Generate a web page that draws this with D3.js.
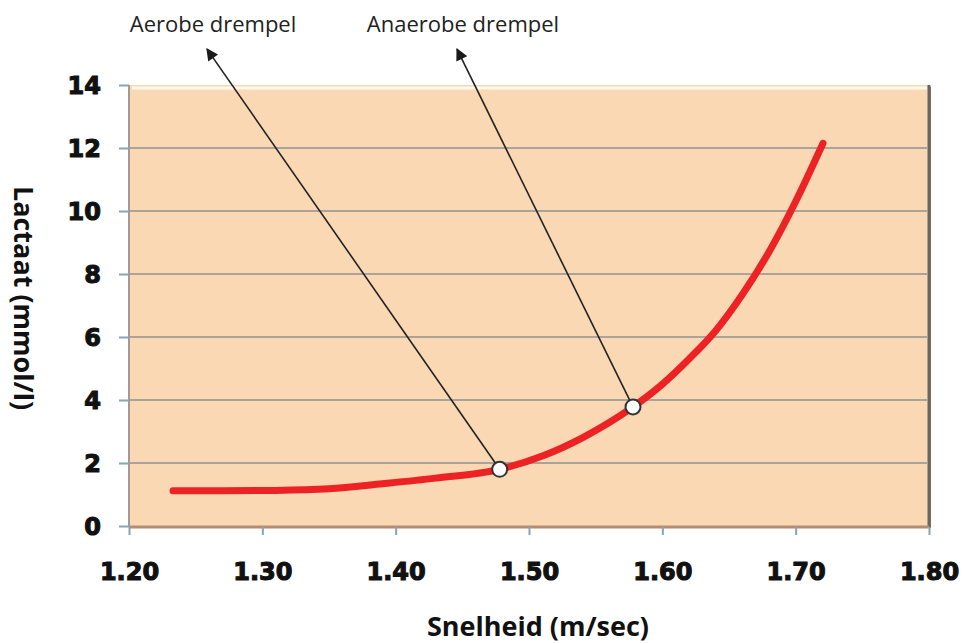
<!DOCTYPE html>
<html>
<head>
<meta charset="utf-8">
<script src="https://cdn.jsdelivr.net/npm/d3@7"></script>
<style>
  html, body { margin: 0; padding: 0; background: #fff; }
  svg { display: block; }
</style>
</head>
<body>
<svg id="chart" width="966" height="643"></svg>
<script>
// Lactate curve: speed (m/sec) vs lactate (mmol/l)
const speed   = [1.233, 1.27, 1.31, 1.35, 1.39, 1.43, 1.478, 1.51, 1.54, 1.578, 1.60, 1.62, 1.64, 1.66, 1.68, 1.70, 1.7205];
const lactate = [1.12, 1.12, 1.13, 1.18, 1.34, 1.52, 1.80, 2.22, 2.80, 3.78, 4.50, 5.30, 6.20, 7.35, 8.70, 10.30, 12.15];

// Threshold markers
const thresholdNames   = ["Aerobe drempel", "Anaerobe drempel"];
const thresholdSpeed   = [1.478, 1.578];
const thresholdLactate = [1.80, 3.78];
// Where each annotation arrow points (data units, above the plot)
const arrowTipSpeed    = [1.2585, 1.446];
const arrowTipLactate  = [15.14, 15.14];

const xTicks = [1.2, 1.3, 1.4, 1.5, 1.6, 1.7, 1.8];
const yTicks = [0, 2, 4, 6, 8, 10, 12, 14];

const svg = d3.select("#chart");
const x = d3.scaleLinear().domain([1.2, 1.8]).range([129, 929]);
const y = d3.scaleLinear().domain([0, 14]).range([526, 85]);

const defs = svg.append("defs");
defs.append("marker")
  .attr("id", "arrowhead")
  .attr("viewBox", "0 0 10 10")
  .attr("refX", 9).attr("refY", 5)
  .attr("markerWidth", 14).attr("markerHeight", 12)
  .attr("markerUnits", "userSpaceOnUse")
  .attr("orient", "auto")
  .append("path").attr("d", "M0,0 L10,5 L0,10 Z").attr("fill", "#1a1a1a");

// Plot area with bevelled frame
const px0 = x(1.2), px1 = x(1.8), py0 = y(14), py1 = y(0);
svg.append("rect")
  .attr("x", px0 + 2).attr("y", py0 + 2)
  .attr("width", px1 - px0).attr("height", py1 - py0)
  .attr("fill", "#8a7565");
svg.append("rect")
  .attr("x", px0).attr("y", py0)
  .attr("width", px1 - px0).attr("height", py1 - py0)
  .attr("fill", "#fad8b3");
svg.append("line")
  .attr("x1", px0 + 3).attr("x2", px1 - 2)
  .attr("y1", py0 + 3).attr("y2", py0 + 3)
  .attr("stroke", "#fffaf0").attr("stroke-width", 3);
svg.append("line")
  .attr("x1", px0).attr("x2", px0)
  .attr("y1", py0).attr("y2", py1)
  .attr("stroke", "#a59a92").attr("stroke-width", 2);
svg.append("line")
  .attr("x1", px1).attr("x2", px1)
  .attr("y1", py0).attr("y2", py1 + 2)
  .attr("stroke", "#6b6560").attr("stroke-width", 3);
svg.append("line")
  .attr("x1", px0).attr("x2", px1)
  .attr("y1", py1 + 1).attr("y2", py1 + 1)
  .attr("stroke", "#b08d73").attr("stroke-width", 3);

// Horizontal gridlines
svg.append("g")
  .selectAll("line")
  .data(yTicks.filter(d => d > 0 && d < 14))
  .join("line")
  .attr("x1", px0 + 1).attr("x2", px1 - 1)
  .attr("y1", d => y(d)).attr("y2", d => y(d))
  .attr("stroke", "#aaa39b").attr("stroke-width", 2);

// Axes
const xAxis = svg.append("g")
  .attr("transform", `translate(0,${py1 + 1})`)
  .call(d3.axisBottom(x).tickValues(xTicks).tickFormat(d3.format(".2f")).tickSize(8).tickPadding(28));
const yAxis = svg.append("g")
  .attr("transform", `translate(${px0},0)`)
  .call(d3.axisLeft(y).tickValues(yTicks).tickSize(10).tickPadding(18));
[xAxis, yAxis].forEach(a => {
  a.select(".domain").remove();
  a.selectAll(".tick line").attr("stroke", "#8aa3b3").attr("stroke-width", 2);
  a.selectAll(".tick text")
    .attr("fill", "#111")
    .attr("stroke", "#111").attr("stroke-width", 1.1)
    .style("font-family", "'DejaVu Sans', sans-serif")
    .style("font-weight", "bold")
    .style("font-size", "24px");
});
xAxis.selectAll(".tick text").attr("dy", "0.71em");
yAxis.selectAll(".tick text").attr("dy", "0.36em");

// Axis titles
svg.append("text")
  .attr("x", 538).attr("y", 636)
  .attr("text-anchor", "middle")
  .attr("fill", "#111")
  .style("font-family", "'Open Sans', sans-serif")
  .style("font-weight", "bold")
  .style("font-size", "27px")
  .text("Snelheid (m/sec)");
svg.append("text")
  .attr("transform", "translate(14,298) rotate(90)")
  .attr("text-anchor", "middle")
  .attr("fill", "#111")
  .style("font-family", "'Open Sans', sans-serif")
  .style("font-weight", "bold")
  .style("font-size", "27px")
  .text("Lactaat (mmol/l)");

// Lactate curve
const line = d3.line()
  .x((d, i) => x(speed[i]))
  .y((d, i) => y(lactate[i]))
  .curve(d3.curveMonotoneX);
svg.append("path")
  .datum(lactate)
  .attr("d", line)
  .attr("fill", "none")
  .attr("stroke", "#ec2224")
  .attr("stroke-width", 7)
  .attr("stroke-linecap", "round");

// Annotation arrows
svg.append("g")
  .selectAll("line")
  .data(thresholdNames)
  .join("line")
  .attr("x1", (d, i) => x(thresholdSpeed[i]))
  .attr("y1", (d, i) => y(thresholdLactate[i]))
  .attr("x2", (d, i) => x(arrowTipSpeed[i]))
  .attr("y2", (d, i) => y(arrowTipLactate[i]))
  .attr("stroke", "#222")
  .attr("stroke-width", 1.6)
  .attr("marker-end", "url(#arrowhead)");

// Threshold markers
svg.append("g")
  .selectAll("circle")
  .data(thresholdNames)
  .join("circle")
  .attr("cx", (d, i) => x(thresholdSpeed[i]))
  .attr("cy", (d, i) => y(thresholdLactate[i]))
  .attr("r", 7.5)
  .attr("fill", "#fdfdff")
  .attr("stroke", "#333")
  .attr("stroke-width", 2);

// Annotation labels
const labelX = [213, 463];
svg.append("g")
  .selectAll("text")
  .data(thresholdNames)
  .join("text")
  .attr("x", (d, i) => labelX[i])
  .attr("y", 32)
  .attr("text-anchor", "middle")
  .attr("fill", "#222")
  .style("font-family", "'Open Sans', sans-serif")
  .style("font-size", "22px")
  .text(d => d);
</script>
</body>
</html>
